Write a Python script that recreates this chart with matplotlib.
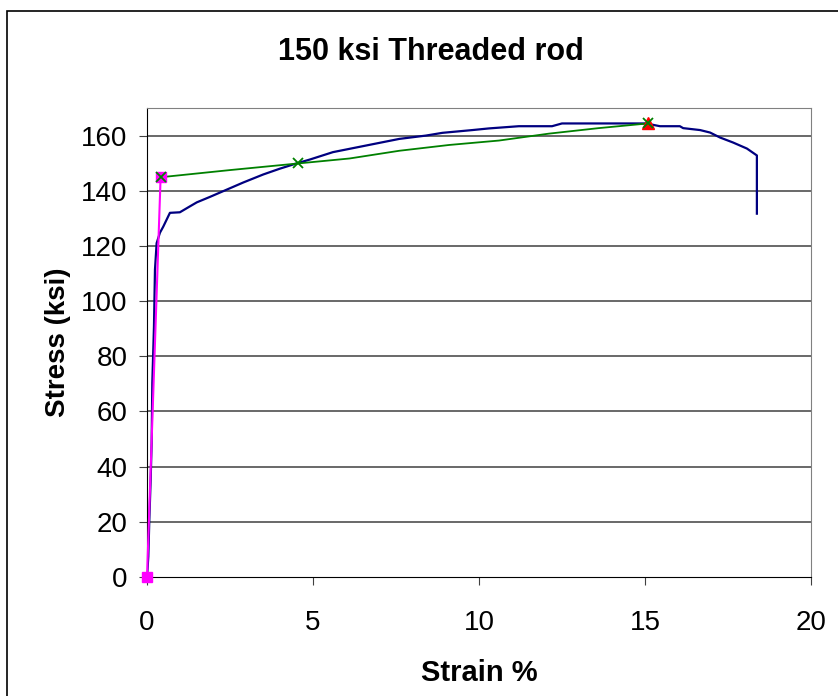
import matplotlib
matplotlib.use("Agg")
import matplotlib.pyplot as plt
from matplotlib.patches import Rectangle

plt.rcParams['font.family'] = ['Liberation Sans', 'DejaVu Sans']

# measured stress-strain curve (strain %, stress ksi)
strain = [0.0, 0.04, 0.07, 0.11, 0.14, 0.16, 0.21, 0.24, 0.29, 0.39, 0.49, 0.59,
          0.69, 0.99, 1.3, 1.5, 1.9, 2.4, 2.9, 3.5, 4.0, 4.5, 4.9, 5.6, 6.6, 7.6,
          8.4, 8.9, 9.8, 10.3, 11.2, 12.2, 12.5, 13.6, 15.08, 15.2, 15.45, 16.05,
          16.15, 16.66, 16.96, 17.26, 17.65, 18.07, 18.37, 18.37]
stress = [0.0, 7.4, 20.7, 35.0, 48.6, 70.4, 90.8, 111.4, 121.0, 124.8, 127.0, 129.5,
          132.0, 132.2, 134.4, 135.8, 137.8, 140.4, 143.0, 145.9, 148.0, 149.9, 151.3,
          154.0, 156.4, 158.8, 160.0, 161.0, 162.0, 162.6, 163.4, 163.4, 164.4, 164.4,
          164.4, 164.0, 163.4, 163.4, 162.7, 162.0, 161.1, 159.3, 157.5, 155.3, 152.8,
          131.7]

# elastic line
el_strain = [0.0, 0.41]
el_stress = [0.0, 144.9]

# green approximation line
gr_strain = [0.41, 2.5, 4.55, 6.1, 7.6, 9.1, 10.6, 12.1, 13.6, 15.08]
gr_stress = [144.9, 147.5, 149.9, 151.7, 154.5, 156.6, 158.2, 160.7, 162.7, 164.4]
mk_strain = [0.41, 4.55, 15.08]
mk_stress = [144.9, 149.9, 164.4]

# ultimate point
ult_strain = [15.08]
ult_stress = [164.4]

fig = plt.figure(figsize=(8.38, 6.96), dpi=100)
ax = fig.add_axes([147 / 838, 1 - 577 / 696, 664 / 838, 469 / 696])

ax.set_xlim(0, 20)
ax.set_ylim(0, 170)
ax.set_xticks([0, 5, 10, 15, 20])
ax.set_yticks(range(0, 161, 20))
for yv in range(20, 161, 20):
    ax.axhline(yv, color='#404040', lw=1.1, zorder=1)

ax.plot(strain, stress, color='#000080', lw=1.6, zorder=3)
ax.plot(gr_strain, gr_stress, color='#008000', lw=1.3, zorder=4)
ax.plot(el_strain, el_stress, color='#FF00FF', lw=1.5, marker='s', ms=7,
        clip_on=False, zorder=5)
ax.plot(ult_strain, ult_stress, linestyle='none', marker='^', color='#FF0000', ms=8, zorder=6)
ax.plot(mk_strain, mk_stress, linestyle='none', marker='x', color='#008000', ms=7, mew=1.3, zorder=7)

fig.text(431 / 838, 1 - 52 / 696, '150 ksi Threaded rod', fontsize=22,
         fontweight='bold', ha='center', va='center')
ax.set_xlabel('Strain %', fontsize=21, fontweight='bold', labelpad=16)
ax.set_ylabel('Stress (ksi)', fontsize=20, fontweight='bold', labelpad=7)
ax.tick_params(axis='both', labelsize=20, direction='out', length=6, color='#404040')
ax.tick_params(axis='x', pad=18)
ax.tick_params(axis='y', pad=8)

for s in ['top', 'right']:
    ax.spines[s].set_color('#808080')
for s in ['left', 'bottom']:
    ax.spines[s].set_color('black')

fig.patches.append(Rectangle((7 / 838, -0.1), 1.2, 1.1 - 11 / 696,
                             transform=fig.transFigure, fill=False,
                             edgecolor='black', lw=1.2))

fig.savefig('out.png', dpi=100)
